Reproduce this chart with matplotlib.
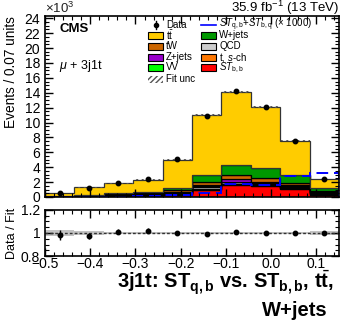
import numpy as np
import matplotlib
matplotlib.use("Agg")
import matplotlib.pyplot as plt
from matplotlib.patches import Rectangle
from matplotlib.lines import Line2D
from matplotlib.ticker import MultipleLocator, FuncFormatter

plt.rcParams['font.family'] = ['Liberation Sans', 'DejaVu Sans']
plt.rcParams['mathtext.fontset'] = 'custom'
plt.rcParams['mathtext.rm'] = 'Liberation Sans'
plt.rcParams['mathtext.it'] = 'Liberation Sans:italic'
plt.rcParams['mathtext.bf'] = 'Liberation Sans:bold'

# ---------------- data (events) ----------------
bin_edges = [-0.5, -0.435, -0.37, -0.305, -0.24, -0.175, -0.11, -0.045, 0.02, 0.085, 0.15]
data   = [540, 1250, 1840, 2380, 5050, 10900, 14170, 12100, 7550, 2420]
st_bb  = [20, 50, 100, 150, 300, 1000, 1550, 1450, 1100, 300]
t_sch  = [10, 20, 30, 30, 50, 100, 150, 100, 100, 50]
qcd    = [50, 50, 100, 100, 150, 300, 300, 250, 200, 200]
vv     = [10, 10, 20, 20, 30, 50, 50, 50, 40, 20]
zjets  = [20, 30, 50, 50, 100, 200, 300, 200, 150, 100]
tw     = [30, 50, 100, 150, 250, 400, 650, 450, 300, 150]
wjets  = [60, 100, 150, 200, 350, 950, 1300, 1400, 1000, 450]
ttbar  = [350, 970, 1270, 1630, 3800, 8000, 9800, 8200, 4660, 1150]
st_qb_bq_x1000 = [20, 30, 50, 80, 250, 550, 1750, 1650, 2850, 3200]
fit_unc_rel = [0.025, 0.02, 0.012, 0.01, 0.01, 0.01, 0.01, 0.01, 0.012, 0.02]

components = [
    ("ST_bb", st_bb, "#ff0000"),
    ("t s-ch", t_sch, "#ff7700"),
    ("QCD", qcd, "#cccccc"),
    ("VV", vv, "#00ff00"),
    ("Z+jets", zjets, "#9900cc"),
    ("tW", tw, "#cc6600"),
    ("W+jets", wjets, "#009900"),
    ("ttbar", ttbar, "#ffcc00"),
]

edges = np.array(bin_edges)
centers = 0.5 * (edges[:-1] + edges[1:])
data_a = np.array(data, dtype=float)

fig = plt.figure(figsize=(3.48, 3.22), dpi=100)
W, H = 348.0, 322.0
TOP, BOT = 16.0, 197.0
ax = fig.add_axes([45 / W, 1 - BOT / H, 294 / W, (BOT - TOP) / H])
rax = fig.add_axes([45 / W, 1 - 256 / H, 294 / W, 46 / H])

# ---------------- main stack ----------------
cum = np.zeros(len(data))
for name, vals, col in components:
    v = np.array(vals, dtype=float)
    ec = '#333333' if name == 'ttbar' else 'black'
    ax.stairs(cum + v, edges, baseline=cum.copy(), fill=True, facecolor=col,
              edgecolor=ec, linewidth=0.9)
    cum = cum + v
total = cum

unc = total * np.array(fit_unc_rel)
ax.stairs(total + unc, edges, baseline=total - unc, fill=True, facecolor='none',
          edgecolor='#555555', hatch='//////', linewidth=0)

ax.stairs(np.array(st_qb_bq_x1000, dtype=float), edges, color='#0000ff',
          linewidth=1.4, linestyle=(0, (6, 3)))

ax.errorbar(centers, data_a, yerr=np.sqrt(data_a), fmt='o', color='black',
            markersize=3.2, elinewidth=1, capsize=0)

ax.set_xlim(-0.5, 0.15)
ax.set_ylim(0, 24300)
ax.yaxis.set_major_locator(MultipleLocator(2000))
ax.yaxis.set_minor_locator(MultipleLocator(500))
ax.yaxis.set_major_formatter(FuncFormatter(lambda v, p: f"{v/1000:.0f}"))
ax.xaxis.set_major_locator(MultipleLocator(0.1))
ax.xaxis.set_minor_locator(MultipleLocator(0.02))
ax.tick_params(axis='x', labelbottom=False)
for a in (ax, rax):
    a.tick_params(which='both', direction='in', top=True, right=True, labelsize=10)
    a.tick_params(which='major', length=6, width=1)
    a.tick_params(which='minor', length=3, width=0.8)
    for s in a.spines.values():
        s.set_linewidth(1.2)

ax.set_ylabel("Events / 0.07 units", fontsize=9.8, loc='top')
ax.yaxis.set_label_coords((18 - 45) / 294, 1.0)

fig.text(45 / W, 1 - 8 / H, r"$\times$10$^{3}$", fontsize=9.5, ha='left', va='center', color='#222222')
fig.text(339 / W, 1 - 8 / H, r"35.9 fb$^{-1}$ (13 TeV)", fontsize=9.5, ha='right', va='center')

def fx(px):
    return (px - 45) / 294.0

def fy(py):
    return (BOT - py) / (BOT - TOP)

ax.text(fx(59), fy(29), "CMS", transform=ax.transAxes, fontsize=9.5, fontweight='bold', ha='left', va='center')
ax.text(fx(59), fy(66), r"$\mu$ + 3j1t", transform=ax.transAxes, fontsize=9, ha='left', va='center')

# ---------------- legend (manual) ----------------
bw, bh = 15, 7
lfs = 7
rows = [25, 35.5, 46, 57, 67.5, 79]
col1 = [("data", None, "Data"), ("box", "#ffcc00", r"t$\bar{\rm t}$"), ("box", "#cc6600", "tW"),
        ("box", "#9900cc", "Z+jets"), ("box", "#00ff00", "VV"), ("hatch", None, "Fit unc")]
col2 = [("line", "#0000ff", r"$ST_{\rm q,b}$+$ST_{\rm b,q}$ ($\times$ 1000)"),
        ("box", "#009900", "W+jets"), ("box", "#cccccc", "QCD"),
        ("box", "#ff7700", r"t, $s$-ch"), ("box", "#ff0000", r"$ST_{\rm b,b}$")]
for colx, entries in ((148, col1), (201, col2)):
    for (kind, c, lab), ry in zip(entries, rows):
        if kind == 'box':
            ax.add_patch(Rectangle((fx(colx), fy(ry + bh / 2)), bw / 294, bh / (BOT - TOP),
                                   transform=ax.transAxes, facecolor=c, edgecolor='black', lw=0.8))
        elif kind == 'hatch':
            ax.add_patch(Rectangle((fx(colx), fy(ry + bh / 2)), bw / 294, bh / (BOT - TOP),
                                   transform=ax.transAxes, facecolor='none', edgecolor='#555555',
                                   hatch='//////', lw=0))
        elif kind == 'line':
            ax.add_line(Line2D([fx(colx), fx(colx + bw)], [fy(ry), fy(ry)], transform=ax.transAxes,
                               color=c, lw=1.2))
        elif kind == 'data':
            ax.add_line(Line2D([fx(colx + bw / 2)], [fy(ry)], transform=ax.transAxes, marker='o',
                               color='black', markersize=3))
            ax.add_line(Line2D([fx(colx + bw / 2)] * 2, [fy(ry - 4), fy(ry + 4)], transform=ax.transAxes,
                               color='black', lw=1))
        ax.text(fx(colx + bw + 3), fy(ry), lab, transform=ax.transAxes, fontsize=lfs,
                ha='left', va='center')

# ---------------- ratio ----------------
ratio = data_a / total
rerr = np.sqrt(data_a) / total
runc = np.array(fit_unc_rel)
rax.stairs(1 + runc, edges, baseline=1 - runc, fill=True, facecolor='#aaaaaa', alpha=0.7, linewidth=0)
rax.axhline(1.0, color='#333333', lw=1, ls=(0, (2, 1.5)))
rax.errorbar(centers, ratio, yerr=rerr, fmt='o', color='black', markersize=3.2,
             elinewidth=1, capsize=0)
rax.set_xlim(-0.5, 0.15)
rax.set_ylim(0.8, 1.2)
rax.yaxis.set_major_locator(MultipleLocator(0.2))
rax.yaxis.set_minor_locator(MultipleLocator(0.05))
rax.yaxis.set_major_formatter(FuncFormatter(lambda v, p: f"{v:g}"))
rax.xaxis.set_major_locator(MultipleLocator(0.1))
rax.xaxis.set_minor_locator(MultipleLocator(0.02))
rax.tick_params(axis='x', pad=1)
rax.set_ylabel("Data / Fit", fontsize=9)
rax.yaxis.set_label_coords((18 - 45) / 294, 0.5)

# ---------------- title ----------------
fig.text(334 / W, 1 - 283 / H, r"3j1t: ST$_{\mathbf{q,b}}$ vs. ST$_{\mathbf{b,b}}$, t$\bar{\mathbf{t}}$,",
         fontsize=14.5, fontweight='bold', ha='right', va='center')
fig.text(328 / W, 1 - 311 / H, "W+jets", fontsize=14.5, fontweight='bold', ha='right', va='center')

fig.savefig("out.png", dpi=100)
